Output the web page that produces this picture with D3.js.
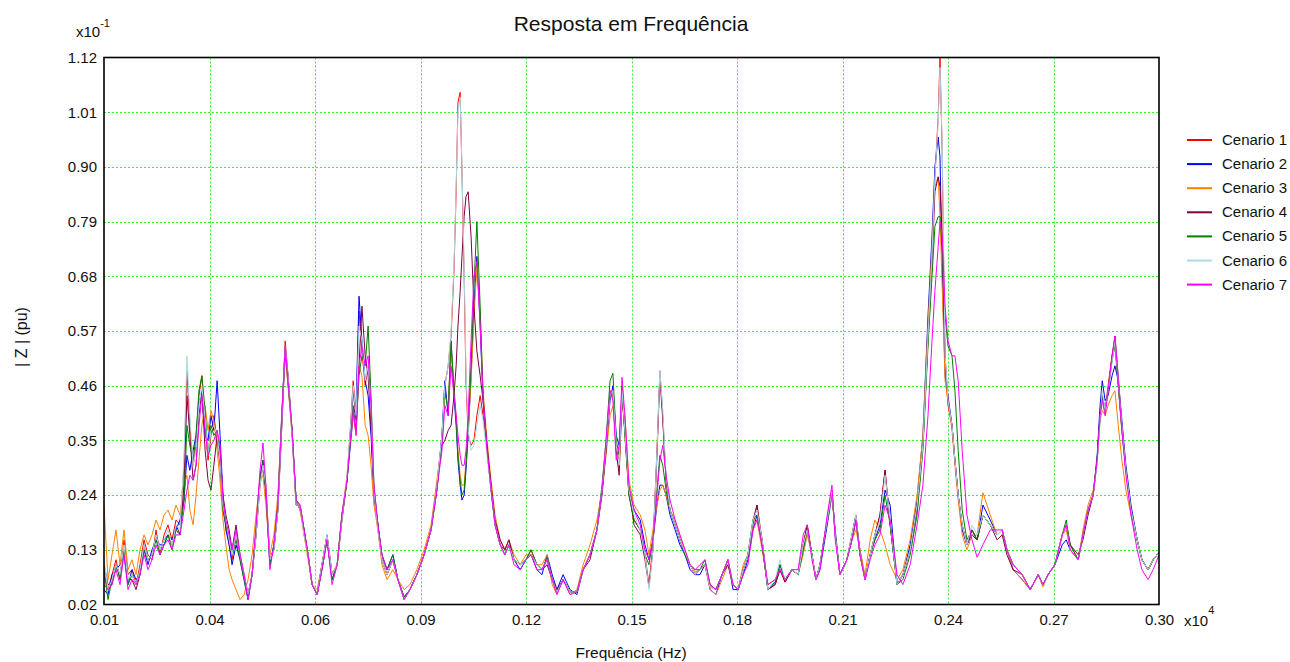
<!DOCTYPE html>
<html><head><meta charset="utf-8">
<script src="https://cdn.jsdelivr.net/npm/d3@7"></script>
<style>body{margin:0;background:#fff}svg{display:block;font-family:"Liberation Sans",Arial,sans-serif}</style>
</head><body><svg id="c" width="1290" height="662"></svg>
<script>
// Frequency (Hz); axis shown in units of x10^4
const freq = [100,111,122,133,144,155,166,177,188,199,210,221,232,243,254,265,276,287,298,309,320,328,336,345,353,361,369,378,386,394,402,411,419,427,435,444,452,463,
474,485,496,507,518,529,537,545,556,567,578,589,598,606,617,628,639,650,661,672,686,699,713,727,741,754,768,776,785,793,801,809,818,826,834,842,853,864,878,894,908,925,941,960,980,999,1015,
1029,1037,1046,1054,1062,1068,1073,1079,1084,1090,1095,1101,1109,1117,1125,1134,1142,1153,1164,1175,1189,1202,1213,1227,1244,1260,1274,1290,
1304,1318,1332,1345,1362,1381,1400,1417,1436,1455,1469,1480,1491,1499,1508,1516,1524,1532,1543,1557,1574,1587,1598,1609,1620,1628,1636,1645,1656,1670,1683,1697,1711,1725,1738,1752,1766,1782,1799,1815,1829,1843,
1857,1870,1884,1895,1909,1925,1945,1958,1972,1991,2008,2022,2033,2046,2057,2068,2088,2101,2110,2123,2142,2156,2167,2178,2192,2206,2219,2233,2247,2261,2280,2296,2316,2335,
2351,2365,2376,2384,2393,2398,2404,2412,2420,2431,2439,2448,2459,2472,2486,2500,2516,2536,2555,2569,2582,2599,2624,2646,2668,2681,2695,2714,2734,2745,2756,2778,2791,2805,2819,2830,2838,2844,2852,2860,2871,2879,2888,2898,2909,2923,2940,2953,2970,2984,3000];

// |Z| values in units of x10^-1 pu
const cenario1 = [0.08,0.05,0.08,0.11,0.07,0.15,0.08,0.09,0.06,0.10,0.15,0.12,0.11,0.17,0.12,0.16,0.18,0.15,0.19,0.18,0.30,0.49,0.38,0.30,0.34,0.44,0.48,0.38,0.31,0.36,0.40,0.35,0.30,0.21,0.18,0.14,0.11,0.16,
0.12,0.08,0.04,0.08,0.16,0.26,0.30,0.26,0.11,0.13,0.21,0.39,0.55,0.48,0.36,0.22,0.22,0.16,0.12,0.06,0.04,0.10,0.16,0.08,0.10,0.19,0.27,0.36,0.47,0.40,0.61,0.53,0.46,0.50,0.38,0.24,0.17,0.11,0.08,0.11,0.07,0.03,0.05,0.08,0.12,0.17,0.26,
0.36,0.46,0.50,0.56,0.69,0.85,1.03,1.05,0.89,0.68,0.47,0.36,0.34,0.35,0.40,0.44,0.40,0.33,0.26,0.18,0.14,0.13,0.15,0.11,0.10,0.11,0.13,0.10,
0.09,0.11,0.07,0.045,0.07,0.045,0.045,0.09,0.12,0.17,0.25,0.34,0.45,0.44,0.33,0.31,0.46,0.36,0.24,0.19,0.17,0.12,0.06,0.14,0.33,0.49,0.40,0.27,0.21,0.18,0.15,0.125,0.10,0.08,0.09,0.10,0.055,0.05,0.08,0.11,0.06,0.05,
0.09,0.12,0.18,0.22,0.15,0.05,0.06,0.09,0.065,0.09,0.08,0.14,0.18,0.12,0.07,0.10,0.19,0.25,0.16,0.08,0.11,0.16,0.20,0.12,0.07,0.12,0.16,0.20,0.29,0.18,0.06,0.08,0.13,0.22,
0.34,0.56,0.72,0.88,1.00,1.12,0.93,0.50,0.42,0.38,0.31,0.24,0.18,0.14,0.17,0.15,0.20,0.18,0.16,0.17,0.13,0.10,0.08,0.05,0.08,0.06,0.08,0.10,0.16,0.18,0.14,0.11,0.16,0.21,0.24,0.31,0.40,0.44,0.41,0.46,0.52,0.55,0.46,0.37,0.29,0.21,0.15,0.11,0.09,0.11,0.125];

const cenario2 = [0.05,0.04,0.08,0.09,0.10,0.12,0.06,0.09,0.07,0.08,0.13,0.10,0.13,0.15,0.14,0.14,0.16,0.15,0.17,0.19,0.23,0.32,0.29,0.33,0.36,0.43,0.44,0.36,0.35,0.40,0.37,0.47,0.36,0.24,0.17,0.14,0.10,0.14,
0.11,0.07,0.03,0.08,0.17,0.28,0.31,0.24,0.10,0.14,0.23,0.41,0.53,0.46,0.37,0.23,0.21,0.17,0.12,0.06,0.04,0.09,0.15,0.07,0.10,0.20,0.27,0.33,0.40,0.42,0.64,0.55,0.47,0.44,0.36,0.24,0.18,0.12,0.09,0.12,0.07,0.035,0.05,0.08,0.12,0.17,0.25,
0.36,0.47,0.40,0.55,0.44,0.38,0.31,0.26,0.23,0.24,0.29,0.36,0.48,0.62,0.72,0.58,0.43,0.33,0.25,0.18,0.14,0.12,0.14,0.11,0.09,0.11,0.12,0.09,
0.08,0.12,0.08,0.05,0.08,0.05,0.04,0.09,0.12,0.17,0.25,0.33,0.43,0.46,0.36,0.34,0.44,0.37,0.25,0.21,0.19,0.14,0.11,0.15,0.22,0.26,0.26,0.24,0.20,0.17,0.14,0.12,0.09,0.08,0.08,0.10,0.05,0.04,0.08,0.11,0.05,0.05,
0.08,0.11,0.17,0.20,0.15,0.05,0.065,0.10,0.07,0.09,0.08,0.13,0.17,0.12,0.07,0.09,0.18,0.24,0.17,0.08,0.11,0.15,0.19,0.13,0.07,0.12,0.15,0.18,0.25,0.22,0.06,0.08,0.14,0.23,
0.36,0.60,0.76,0.90,0.96,0.92,0.70,0.48,0.44,0.38,0.31,0.24,0.17,0.14,0.16,0.15,0.22,0.19,0.16,0.17,0.13,0.09,0.07,0.05,0.08,0.06,0.08,0.10,0.14,0.15,0.13,0.11,0.16,0.21,0.24,0.32,0.42,0.47,0.43,0.44,0.48,0.50,0.47,0.39,0.30,0.22,0.15,0.11,0.09,0.11,0.125];

const cenario3 = [0.22,0.07,0.12,0.17,0.10,0.17,0.09,0.11,0.08,0.13,0.16,0.14,0.16,0.19,0.17,0.20,0.21,0.19,0.22,0.20,0.26,0.28,0.21,0.18,0.24,0.31,0.38,0.42,0.37,0.41,0.39,0.33,0.27,0.19,0.14,0.09,0.07,0.05,
0.03,0.04,0.07,0.12,0.20,0.27,0.28,0.22,0.12,0.16,0.24,0.40,0.52,0.46,0.36,0.23,0.21,0.16,0.11,0.06,0.05,0.10,0.15,0.08,0.10,0.20,0.28,0.34,0.40,0.36,0.50,0.48,0.38,0.36,0.30,0.22,0.17,0.10,0.07,0.09,0.07,0.05,0.06,0.09,0.13,0.18,0.27,
0.35,0.44,0.42,0.54,0.46,0.40,0.33,0.28,0.26,0.26,0.31,0.37,0.47,0.60,0.70,0.60,0.45,0.35,0.27,0.20,0.15,0.13,0.15,0.12,0.10,0.12,0.12,0.10,
0.10,0.12,0.06,0.04,0.07,0.04,0.05,0.10,0.14,0.19,0.25,0.32,0.40,0.42,0.34,0.29,0.42,0.40,0.27,0.22,0.20,0.17,0.12,0.17,0.22,0.25,0.26,0.24,0.21,0.19,0.16,0.13,0.10,0.085,0.09,0.10,0.05,0.04,0.07,0.10,0.06,0.05,
0.10,0.12,0.18,0.19,0.13,0.06,0.07,0.09,0.07,0.09,0.08,0.12,0.16,0.12,0.07,0.10,0.19,0.24,0.16,0.08,0.11,0.15,0.17,0.13,0.08,0.15,0.19,0.17,0.14,0.10,0.07,0.09,0.15,0.24,
0.36,0.58,0.74,0.86,0.88,0.80,0.66,0.47,0.43,0.37,0.30,0.23,0.16,0.13,0.16,0.16,0.245,0.20,0.16,0.17,0.13,0.09,0.07,0.05,0.08,0.055,0.08,0.10,0.16,0.17,0.13,0.11,0.17,0.22,0.25,0.31,0.39,0.41,0.40,0.42,0.44,0.45,0.38,0.31,0.25,0.20,0.15,0.11,0.09,0.11,0.125];

const cenario4 = [0.10,0.06,0.06,0.10,0.08,0.13,0.07,0.07,0.05,0.08,0.14,0.11,0.12,0.16,0.13,0.15,0.16,0.14,0.18,0.16,0.26,0.44,0.36,0.27,0.30,0.40,0.45,0.33,0.27,0.25,0.30,0.36,0.33,0.24,0.20,0.17,0.13,0.18,
0.12,0.08,0.04,0.08,0.16,0.27,0.30,0.25,0.11,0.13,0.21,0.38,0.53,0.48,0.37,0.22,0.22,0.17,0.12,0.06,0.04,0.10,0.16,0.08,0.10,0.19,0.27,0.35,0.45,0.39,0.50,0.62,0.52,0.48,0.38,0.25,0.18,0.11,0.08,0.11,0.07,0.03,0.05,0.08,0.12,0.17,0.26,
0.34,0.35,0.37,0.38,0.44,0.50,0.58,0.65,0.72,0.80,0.84,0.85,0.76,0.62,0.53,0.48,0.43,0.34,0.26,0.19,0.15,0.13,0.15,0.11,0.10,0.11,0.12,0.10,
0.09,0.10,0.07,0.05,0.07,0.045,0.045,0.09,0.11,0.17,0.24,0.33,0.44,0.45,0.33,0.28,0.44,0.37,0.25,0.18,0.16,0.11,0.055,0.13,0.32,0.48,0.39,0.27,0.21,0.18,0.15,0.12,0.10,0.08,0.09,0.10,0.06,0.05,0.08,0.10,0.06,0.05,
0.09,0.12,0.19,0.22,0.14,0.05,0.06,0.09,0.065,0.09,0.08,0.14,0.18,0.12,0.07,0.10,0.19,0.25,0.16,0.08,0.11,0.16,0.20,0.12,0.07,0.12,0.16,0.20,0.29,0.18,0.06,0.08,0.13,0.21,
0.34,0.55,0.70,0.85,0.88,0.86,0.76,0.52,0.43,0.38,0.31,0.24,0.18,0.14,0.17,0.15,0.20,0.18,0.15,0.16,0.12,0.09,0.08,0.05,0.08,0.06,0.08,0.10,0.16,0.18,0.14,0.12,0.15,0.20,0.24,0.31,0.40,0.44,0.41,0.45,0.52,0.56,0.48,0.38,0.29,0.21,0.15,0.11,0.09,0.11,0.125];

const cenario5 = [0.09,0.03,0.07,0.10,0.07,0.13,0.06,0.08,0.06,0.09,0.13,0.11,0.12,0.15,0.12,0.14,0.16,0.13,0.17,0.16,0.23,0.38,0.34,0.31,0.36,0.45,0.48,0.41,0.32,0.38,0.36,0.37,0.31,0.21,0.18,0.15,0.12,0.15,
0.11,0.07,0.03,0.08,0.17,0.27,0.31,0.25,0.10,0.14,0.22,0.40,0.54,0.47,0.37,0.23,0.22,0.17,0.12,0.06,0.04,0.09,0.15,0.07,0.10,0.20,0.27,0.34,0.42,0.37,0.48,0.52,0.50,0.58,0.44,0.26,0.18,0.12,0.09,0.12,0.07,0.035,0.05,0.08,0.12,0.17,0.25,
0.35,0.45,0.41,0.55,0.45,0.39,0.32,0.27,0.24,0.25,0.30,0.38,0.50,0.66,0.79,0.62,0.44,0.33,0.25,0.18,0.14,0.12,0.14,0.11,0.10,0.11,0.13,0.10,
0.09,0.115,0.07,0.045,0.07,0.045,0.045,0.09,0.12,0.17,0.26,0.35,0.47,0.485,0.35,0.32,0.45,0.36,0.24,0.19,0.17,0.12,0.10,0.15,0.25,0.32,0.30,0.25,0.21,0.18,0.15,0.12,0.10,0.09,0.09,0.11,0.06,0.05,0.08,0.11,0.06,0.05,
0.09,0.12,0.19,0.20,0.14,0.05,0.065,0.10,0.07,0.09,0.08,0.13,0.17,0.12,0.07,0.10,0.19,0.25,0.16,0.08,0.11,0.15,0.19,0.12,0.07,0.12,0.15,0.17,0.24,0.18,0.06,0.07,0.12,0.20,
0.33,0.54,0.68,0.78,0.80,0.80,0.74,0.60,0.54,0.52,0.45,0.33,0.21,0.15,0.17,0.15,0.20,0.18,0.16,0.17,0.13,0.10,0.08,0.05,0.08,0.06,0.08,0.10,0.16,0.19,0.14,0.11,0.16,0.21,0.24,0.31,0.40,0.44,0.41,0.45,0.51,0.54,0.46,0.37,0.29,0.21,0.15,0.11,0.09,0.11,0.125];

const cenario6 = [0.11,0.05,0.07,0.10,0.08,0.14,0.07,0.08,0.06,0.09,0.14,0.11,0.12,0.16,0.13,0.15,0.17,0.14,0.18,0.17,0.32,0.52,0.40,0.30,0.33,0.42,0.46,0.39,0.32,0.37,0.38,0.36,0.31,0.22,0.19,0.15,0.12,0.16,
0.12,0.08,0.04,0.08,0.16,0.26,0.30,0.26,0.11,0.13,0.21,0.39,0.54,0.48,0.36,0.22,0.22,0.16,0.12,0.06,0.04,0.10,0.16,0.08,0.10,0.19,0.28,0.36,0.46,0.40,0.58,0.55,0.47,0.50,0.41,0.25,0.17,0.11,0.08,0.11,0.07,0.03,0.05,0.08,0.12,0.17,0.26,
0.36,0.46,0.50,0.57,0.70,0.86,1.01,1.04,0.90,0.70,0.49,0.37,0.33,0.34,0.38,0.42,0.39,0.32,0.25,0.18,0.14,0.12,0.14,0.11,0.10,0.11,0.12,0.10,
0.09,0.11,0.07,0.045,0.07,0.045,0.045,0.09,0.12,0.17,0.25,0.34,0.44,0.45,0.34,0.30,0.45,0.37,0.25,0.20,0.17,0.12,0.05,0.13,0.33,0.49,0.41,0.28,0.21,0.18,0.15,0.125,0.10,0.08,0.09,0.10,0.055,0.05,0.08,0.11,0.06,0.05,
0.09,0.12,0.19,0.21,0.15,0.05,0.07,0.11,0.07,0.09,0.08,0.14,0.17,0.12,0.07,0.10,0.19,0.25,0.16,0.08,0.11,0.16,0.20,0.12,0.07,0.12,0.16,0.19,0.28,0.19,0.06,0.08,0.13,0.22,
0.34,0.56,0.72,0.88,0.99,1.10,0.95,0.52,0.43,0.38,0.31,0.24,0.18,0.14,0.18,0.16,0.20,0.18,0.16,0.17,0.13,0.10,0.08,0.05,0.08,0.06,0.08,0.10,0.16,0.18,0.13,0.11,0.16,0.21,0.24,0.30,0.39,0.45,0.41,0.45,0.51,0.55,0.47,0.38,0.29,0.21,0.15,0.11,0.09,0.11,0.125];

const cenario7 = [0.06,0.05,0.06,0.09,0.06,0.12,0.05,0.07,0.06,0.08,0.12,0.09,0.11,0.14,0.12,0.14,0.15,0.13,0.16,0.16,0.21,0.25,0.28,0.27,0.30,0.38,0.44,0.37,0.32,0.34,0.35,0.37,0.34,0.23,0.19,0.16,0.13,0.17,
0.12,0.08,0.03,0.08,0.18,0.29,0.345,0.26,0.09,0.14,0.22,0.40,0.54,0.47,0.37,0.23,0.22,0.17,0.12,0.06,0.04,0.09,0.15,0.06,0.10,0.20,0.27,0.34,0.41,0.36,0.50,0.54,0.50,0.52,0.42,0.26,0.18,0.12,0.09,0.11,0.07,0.03,0.05,0.08,0.12,0.17,0.25,
0.33,0.42,0.40,0.50,0.44,0.40,0.36,0.32,0.30,0.30,0.33,0.40,0.55,0.68,0.71,0.58,0.44,0.33,0.25,0.18,0.14,0.12,0.14,0.10,0.09,0.11,0.12,0.09,
0.09,0.11,0.07,0.04,0.07,0.04,0.045,0.09,0.12,0.17,0.25,0.35,0.45,0.43,0.31,0.34,0.477,0.40,0.26,0.21,0.18,0.13,0.11,0.15,0.24,0.31,0.34,0.28,0.23,0.19,0.16,0.13,0.10,0.09,0.10,0.11,0.06,0.05,0.08,0.11,0.06,0.05,
0.08,0.10,0.17,0.19,0.14,0.06,0.07,0.09,0.07,0.09,0.09,0.16,0.18,0.11,0.07,0.09,0.20,0.26,0.15,0.08,0.11,0.15,0.19,0.12,0.07,0.11,0.14,0.16,0.22,0.19,0.08,0.06,0.10,0.18,
0.26,0.40,0.55,0.65,0.74,0.79,0.76,0.62,0.55,0.52,0.52,0.47,0.33,0.20,0.15,0.115,0.14,0.17,0.17,0.17,0.13,0.10,0.08,0.05,0.08,0.06,0.08,0.10,0.16,0.18,0.13,0.11,0.16,0.21,0.24,0.31,0.40,0.43,0.40,0.45,0.52,0.56,0.47,0.37,0.28,0.20,0.13,0.09,0.07,0.09,0.12];

const seriesNames = ["Cenario 1","Cenario 2","Cenario 3","Cenario 4","Cenario 5","Cenario 6","Cenario 7"];
const seriesColors = ["#ff0000","#0000ff","#ff8000","#800040","#008000","#add8e6","#ff00ff"];
const xTickValues = [100,390,680,970,1260,1550,1840,2130,2420,2710,3000];
const xTickLabels = ["0.01","0.04","0.06","0.09","0.12","0.15","0.18","0.21","0.24","0.27","0.30"];
const yTickValues = [0.02,0.13,0.24,0.35,0.46,0.57,0.68,0.79,0.90,1.01,1.12];
const yTickLabels = ["0.02","0.13","0.24","0.35","0.46","0.57","0.68","0.79","0.90","1.01","1.12"];

const allSeries = [cenario1,cenario2,cenario3,cenario4,cenario5,cenario6,cenario7];

const svg = d3.select("#c");
const L=104, R=1159, T=57.5, B=604.5;
const x = d3.scaleLinear().domain([100,3000]).range([L,R]);
const y = d3.scaleLinear().domain([0.02,1.12]).range([B,T]);

svg.append("rect").attr("width",1290).attr("height",662).attr("fill","#fff");

// grid
const grid = svg.append("g").attr("stroke","#33ee33").attr("stroke-width",1).attr("stroke-dasharray","2,2");
xTickValues.slice(1,-1).forEach(v=>grid.append("line").attr("x1",Math.round(x(v))+0.5).attr("x2",Math.round(x(v))+0.5).attr("y1",T).attr("y2",B));
yTickValues.slice(1,-1).forEach(v=>grid.append("line").attr("y1",Math.round(y(v))+0.5).attr("y2",Math.round(y(v))+0.5).attr("x1",L).attr("x2",R));

// clip
svg.append("clipPath").attr("id","clip").append("rect").attr("x",L).attr("y",T-1).attr("width",R-L).attr("height",B-T+1);

const line = d3.line().x((d,i)=>x(freq[i])).y(d=>y(d));
const lines = svg.append("g").attr("clip-path","url(#clip)");
allSeries.forEach((s,k)=>{
  lines.append("path").datum(s).attr("d",line).attr("fill","none")
    .attr("stroke",seriesColors[k]).attr("stroke-width",1).attr("stroke-linejoin","round");
});

// border
svg.append("rect").attr("x",L).attr("y",T).attr("width",R-L).attr("height",B-T)
  .attr("fill","none").attr("stroke","#000").attr("stroke-width",1.6);

// axes
const xAxis = d3.axisBottom(x).tickValues(xTickValues).tickFormat((d,i)=>xTickLabels[i]).tickSize(0).tickPadding(10);
const gx = svg.append("g").attr("transform",`translate(0,${B})`).call(xAxis);
gx.select(".domain").remove();
gx.selectAll("text").attr("font-size",15).attr("font-family","Liberation Sans, Arial, sans-serif").attr("fill","#111");

const yAxis = d3.axisLeft(y).tickValues(yTickValues).tickFormat((d,i)=>yTickLabels[i]).tickSize(0).tickPadding(7);
const gy = svg.append("g").attr("transform",`translate(${L},0)`).call(yAxis);
gy.select(".domain").remove();
gy.selectAll("text").attr("font-size",15).attr("font-family","Liberation Sans, Arial, sans-serif").attr("fill","#111");

// title & labels
svg.append("text").attr("x",631).attr("y",31).attr("text-anchor","middle").attr("font-size",21).attr("fill","#111").text("Resposta em Frequência");
svg.append("text").attr("x",631).attr("y",658).attr("text-anchor","middle").attr("font-size",15.5).attr("fill","#111").text("Frequência (Hz)");
svg.append("text").attr("transform","translate(27,337) rotate(-90)").attr("text-anchor","middle").attr("font-size",16).attr("fill","#111").text("| Z | (pu)");

const e1 = svg.append("text").attr("x",76).attr("y",37).attr("font-size",15).attr("fill","#111");
e1.append("tspan").text("x10");
e1.append("tspan").attr("dy",-10).attr("font-size",11).text("-1");
const e2 = svg.append("text").attr("x",1184).attr("y",626).attr("font-size",15).attr("fill","#111");
e2.append("tspan").text("x10");
e2.append("tspan").attr("dy",-12).attr("font-size",11).text("4");

// legend
const lg = svg.append("g");
seriesNames.forEach((n,k)=>{
  const yy = 140 + k*24.1;
  lg.append("line").attr("x1",1187).attr("x2",1212).attr("y1",yy).attr("y2",yy).attr("stroke",seriesColors[k]).attr("stroke-width",2);
  lg.append("text").attr("x",1222).attr("y",yy+5).attr("font-size",15).attr("fill","#111").text(n);
});
</script></body></html>
